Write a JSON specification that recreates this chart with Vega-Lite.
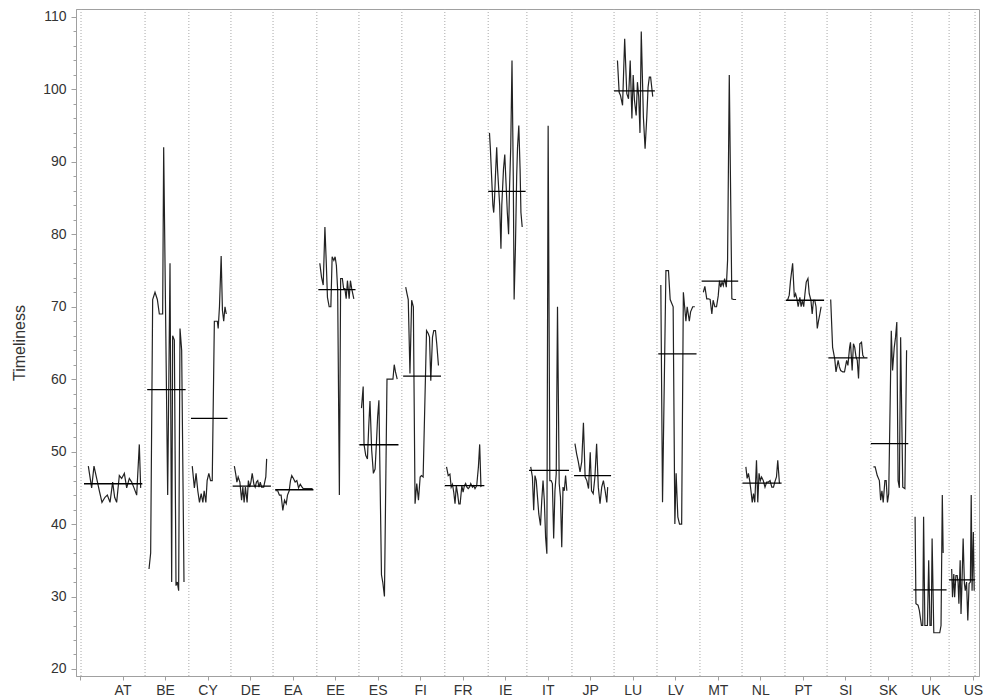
{
"$schema": "https://vega.github.io/schema/vega-lite/v6.json",
"width": 903, "height": 667,
"autosize": {"type": "none"},
"padding": {"left": 76, "top": 9, "right": 5, "bottom": 24},
"background": "white",
"config": {"view": {"stroke": "#a0a0a0", "strokeWidth": 1}, "font": "Liberation Sans", "axis": {"labelOverlap": false}},
"datasets": {
"bounds": [{"b":0.24},{"b":15.3},{"b":25.6},{"b":35.5},{"b":45.4},{"b":55.7},{"b":65.6},{"b":75.7},{"b":85.8},{"b":96.0},{"b":105.1},{"b":115.7},{"b":125.6},{"b":135.7},{"b":145.8},{"b":155.7},{"b":165.8},{"b":175.7},{"b":186.0},{"b":195.7},{"b":204.4},{"b":210.5}],
"means": [
{"c":"AT","t0":0.94,"t1":14.66,"v":45.57},{"c":"BE","t0":15.8,"t1":24.85,"v":58.55},{"c":"CY","t0":26.1,"t1":34.7,"v":54.6},{"c":"DE","t0":35.9,"t1":44.9,"v":45.24},{"c":"EA","t0":45.9,"t1":54.9,"v":44.74},{"c":"EE","t0":56.05,"t1":64.8,"v":72.36},{"c":"ES","t0":65.7,"t1":74.9,"v":50.95},{"c":"FI","t0":76.0,"t1":84.9,"v":60.43},{"c":"FR","t0":85.8,"t1":95.1,"v":45.3},{"c":"IE","t0":96.0,"t1":104.8,"v":85.93},{"c":"IT","t0":105.6,"t1":115.0,"v":47.4},{"c":"JP","t0":116.2,"t1":124.9,"v":46.7},{"c":"LU","t0":125.6,"t1":135.2,"v":99.8},{"c":"LV","t0":136.0,"t1":145.0,"v":63.5},{"c":"MT","t0":146.2,"t1":154.8,"v":73.55},{"c":"NL","t0":155.8,"t1":165.0,"v":45.65},{"c":"PT","t0":166.0,"t1":175.0,"v":70.9},{"c":"SI","t0":176.0,"t1":185.2,"v":62.95},{"c":"SK","t0":186.0,"t1":194.8,"v":51.1},{"c":"UK","t0":196.0,"t1":203.8,"v":30.93},{"c":"US","t0":204.4,"t1":210.5,"v":32.3}],
"series": [
{"c":"AT","t":1.96,"v":48},{"c":"AT","t":2.74,"v":45},{"c":"AT","t":3.29,"v":48},{"c":"AT","t":3.92,"v":46.3},{"c":"AT","t":4.55,"v":44.6},{"c":"AT","t":5.17,"v":43},{"c":"AT","t":5.88,"v":43.7},{"c":"AT","t":6.43,"v":44},{"c":"AT","t":7.06,"v":43},{"c":"AT","t":7.68,"v":45.8},{"c":"AT","t":8.15,"v":43.7},{"c":"AT","t":8.62,"v":43},{"c":"AT","t":9.25,"v":46.7},{"c":"AT","t":9.8,"v":46.3},{"c":"AT","t":10.43,"v":47},{"c":"AT","t":10.98,"v":45},{"c":"AT","t":11.6,"v":46.3},{"c":"AT","t":12.15,"v":45.8},{"c":"AT","t":12.7,"v":45},{"c":"AT","t":13.33,"v":44},{"c":"AT","t":13.95,"v":51},{"c":"AT","t":14.27,"v":45},
{"c":"BE","t":16.23,"v":33.8},{"c":"BE","t":16.62,"v":36},{"c":"BE","t":17.09,"v":71},{"c":"BE","t":17.64,"v":72},{"c":"BE","t":18.19,"v":71},{"c":"BE","t":18.66,"v":69},{"c":"BE","t":19.44,"v":69},{"c":"BE","t":19.68,"v":92},{"c":"BE","t":20.62,"v":44},{"c":"BE","t":21.17,"v":76},{"c":"BE","t":21.56,"v":32},{"c":"BE","t":21.79,"v":66},{"c":"BE","t":22.19,"v":65.4},{"c":"BE","t":22.58,"v":31.5},{"c":"BE","t":22.89,"v":32},{"c":"BE","t":23.2,"v":30.8},{"c":"BE","t":23.52,"v":67},{"c":"BE","t":23.91,"v":64},{"c":"BE","t":24.46,"v":32},
{"c":"CY","t":26.4,"v":48},{"c":"CY","t":26.9,"v":45},{"c":"CY","t":27.3,"v":47},{"c":"CY","t":27.7,"v":44.6},{"c":"CY","t":28.1,"v":43},{"c":"CY","t":28.5,"v":44.2},{"c":"CY","t":28.9,"v":43},{"c":"CY","t":29.2,"v":44.6},{"c":"CY","t":29.6,"v":43},{"c":"CY","t":29.9,"v":46},{"c":"CY","t":30.3,"v":47},{"c":"CY","t":30.7,"v":46},{"c":"CY","t":31.1,"v":46},{"c":"CY","t":31.6,"v":68},{"c":"CY","t":32.0,"v":68},{"c":"CY","t":32.3,"v":68},{"c":"CY","t":32.5,"v":67},{"c":"CY","t":32.8,"v":70},{"c":"CY","t":33.2,"v":77},{"c":"CY","t":33.5,"v":69.5},{"c":"CY","t":33.8,"v":68},{"c":"CY","t":34.1,"v":70},{"c":"CY","t":34.4,"v":69},
{"c":"DE","t":36.3,"v":48},{"c":"DE","t":36.6,"v":47},{"c":"DE","t":36.9,"v":45.8},{"c":"DE","t":37.2,"v":46.5},{"c":"DE","t":37.6,"v":45.8},{"c":"DE","t":38.0,"v":43.3},{"c":"DE","t":38.3,"v":45.1},{"c":"DE","t":38.6,"v":43},{"c":"DE","t":38.9,"v":45.1},{"c":"DE","t":39.3,"v":43},{"c":"DE","t":39.6,"v":46},{"c":"DE","t":39.9,"v":45.1},{"c":"DE","t":40.2,"v":45.8},{"c":"DE","t":40.5,"v":47},{"c":"DE","t":40.9,"v":45.5},{"c":"DE","t":41.2,"v":45.1},{"c":"DE","t":41.5,"v":45.8},{"c":"DE","t":41.8,"v":46},{"c":"DE","t":42.1,"v":45.1},{"c":"DE","t":42.4,"v":45.8},{"c":"DE","t":42.7,"v":45.1},{"c":"DE","t":43.2,"v":45.1},{"c":"DE","t":43.7,"v":46.5},{"c":"DE","t":43.9,"v":49},
{"c":"EA","t":46.0,"v":44.6},{"c":"EA","t":46.5,"v":44.6},{"c":"EA","t":46.9,"v":44},{"c":"EA","t":47.3,"v":44},{"c":"EA","t":47.7,"v":41.9},{"c":"EA","t":48.1,"v":43.3},{"c":"EA","t":48.5,"v":42.8},{"c":"EA","t":48.8,"v":44},{"c":"EA","t":49.2,"v":44.6},{"c":"EA","t":49.5,"v":46},{"c":"EA","t":49.8,"v":46.7},{"c":"EA","t":50.2,"v":46.3},{"c":"EA","t":50.6,"v":45.8},{"c":"EA","t":51.0,"v":46},{"c":"EA","t":51.4,"v":45},{"c":"EA","t":51.8,"v":45.5},{"c":"EA","t":52.1,"v":45.2},{"c":"EA","t":52.5,"v":44.9},{"c":"EA","t":53.3,"v":44.9},{"c":"EA","t":54.1,"v":44.9},{"c":"EA","t":54.7,"v":44.9},
{"c":"EE","t":56.4,"v":76},{"c":"EE","t":56.8,"v":74.1},{"c":"EE","t":57.2,"v":73},{"c":"EE","t":57.6,"v":81},{"c":"EE","t":57.9,"v":76.4},{"c":"EE","t":58.2,"v":71.3},{"c":"EE","t":58.6,"v":70},{"c":"EE","t":59.0,"v":70},{"c":"EE","t":59.3,"v":76.9},{"c":"EE","t":59.7,"v":76.4},{"c":"EE","t":60.0,"v":76.9},{"c":"EE","t":60.3,"v":75.7},{"c":"EE","t":60.6,"v":72.3},{"c":"EE","t":61.0,"v":44},{"c":"EE","t":61.3,"v":73.9},{"c":"EE","t":61.7,"v":73.9},{"c":"EE","t":62.0,"v":72.5},{"c":"EE","t":62.3,"v":72.5},{"c":"EE","t":62.6,"v":71.1},{"c":"EE","t":62.9,"v":73.6},{"c":"EE","t":63.3,"v":71.1},{"c":"EE","t":63.6,"v":73.6},{"c":"EE","t":63.9,"v":72.5},{"c":"EE","t":64.4,"v":71.1},
{"c":"ES","t":66.2,"v":56},{"c":"ES","t":66.6,"v":59},{"c":"ES","t":66.8,"v":51},{"c":"ES","t":67.2,"v":49.5},{"c":"ES","t":67.6,"v":49},{"c":"ES","t":67.9,"v":53.4},{"c":"ES","t":68.2,"v":57},{"c":"ES","t":68.6,"v":50.2},{"c":"ES","t":69.0,"v":47},{"c":"ES","t":69.4,"v":47.6},{"c":"ES","t":69.7,"v":51},{"c":"ES","t":70.0,"v":54.8},{"c":"ES","t":70.3,"v":57.1},{"c":"ES","t":70.9,"v":33},{"c":"ES","t":71.2,"v":32},{"c":"ES","t":71.6,"v":30},{"c":"ES","t":72.2,"v":60},{"c":"ES","t":72.7,"v":60},{"c":"ES","t":73.1,"v":60},{"c":"ES","t":73.6,"v":60},{"c":"ES","t":73.9,"v":62},{"c":"ES","t":74.2,"v":61},{"c":"ES","t":74.6,"v":60},
{"c":"FI","t":76.6,"v":72.7},{"c":"FI","t":76.9,"v":71.8},{"c":"FI","t":77.2,"v":71},{"c":"FI","t":77.6,"v":60.8},{"c":"FI","t":78.0,"v":70.9},{"c":"FI","t":78.4,"v":70},{"c":"FI","t":78.8,"v":42.8},{"c":"FI","t":79.2,"v":45.6},{"c":"FI","t":79.6,"v":43.3},{"c":"FI","t":80.0,"v":46.5},{"c":"FI","t":80.3,"v":46.7},{"c":"FI","t":80.7,"v":46.5},{"c":"FI","t":81.5,"v":66.7},{"c":"FI","t":81.9,"v":66.3},{"c":"FI","t":82.2,"v":65.8},{"c":"FI","t":82.5,"v":59.8},{"c":"FI","t":82.9,"v":65.8},{"c":"FI","t":83.2,"v":66.7},{"c":"FI","t":83.6,"v":66.7},{"c":"FI","t":83.9,"v":64.9},{"c":"FI","t":84.3,"v":61.9},
{"c":"FR","t":86.2,"v":47.9},{"c":"FR","t":86.6,"v":46.7},{"c":"FR","t":87.0,"v":46.9},{"c":"FR","t":87.3,"v":45.1},{"c":"FR","t":87.6,"v":45.5},{"c":"FR","t":87.9,"v":44.4},{"c":"FR","t":88.2,"v":42.8},{"c":"FR","t":88.5,"v":45.3},{"c":"FR","t":88.8,"v":44.2},{"c":"FR","t":89.1,"v":42.8},{"c":"FR","t":89.4,"v":42.8},{"c":"FR","t":89.8,"v":45.3},{"c":"FR","t":90.1,"v":44.4},{"c":"FR","t":90.4,"v":45.3},{"c":"FR","t":90.7,"v":45.6},{"c":"FR","t":91.0,"v":45.1},{"c":"FR","t":91.3,"v":44.9},{"c":"FR","t":91.6,"v":45.1},{"c":"FR","t":91.9,"v":45.6},{"c":"FR","t":92.3,"v":45.1},{"c":"FR","t":92.6,"v":45.3},{"c":"FR","t":92.9,"v":44.9},{"c":"FR","t":93.3,"v":45.3},{"c":"FR","t":93.7,"v":47.9},{"c":"FR","t":94.0,"v":51},{"c":"FR","t":94.3,"v":45.1},
{"c":"IE","t":96.3,"v":94},{"c":"IE","t":96.5,"v":92},{"c":"IE","t":96.8,"v":88},{"c":"IE","t":97.1,"v":84},{"c":"IE","t":97.3,"v":83},{"c":"IE","t":97.5,"v":85},{"c":"IE","t":97.7,"v":88},{"c":"IE","t":98.0,"v":92},{"c":"IE","t":98.2,"v":89},{"c":"IE","t":98.5,"v":86},{"c":"IE","t":98.7,"v":84},{"c":"IE","t":99.0,"v":78},{"c":"IE","t":99.2,"v":84},{"c":"IE","t":99.6,"v":89},{"c":"IE","t":99.9,"v":91},{"c":"IE","t":100.2,"v":87},{"c":"IE","t":100.5,"v":83},{"c":"IE","t":100.8,"v":80},{"c":"IE","t":101.0,"v":86},{"c":"IE","t":101.3,"v":92},{"c":"IE","t":101.6,"v":104},{"c":"IE","t":101.9,"v":88},{"c":"IE","t":102.1,"v":71},{"c":"IE","t":102.4,"v":78},{"c":"IE","t":102.7,"v":88},{"c":"IE","t":102.9,"v":92},{"c":"IE","t":103.2,"v":95},{"c":"IE","t":103.5,"v":89},{"c":"IE","t":103.7,"v":83},{"c":"IE","t":104.0,"v":81},
{"c":"IT","t":106.0,"v":47.9},{"c":"IT","t":106.4,"v":46.5},{"c":"IT","t":106.7,"v":41.9},{"c":"IT","t":107.0,"v":46.7},{"c":"IT","t":107.3,"v":46},{"c":"IT","t":107.6,"v":43.7},{"c":"IT","t":107.9,"v":41.4},{"c":"IT","t":108.3,"v":39.8},{"c":"IT","t":108.6,"v":43.3},{"c":"IT","t":108.9,"v":46},{"c":"IT","t":109.2,"v":43.3},{"c":"IT","t":109.5,"v":38.2},{"c":"IT","t":109.8,"v":35.9},{"c":"IT","t":110.1,"v":95},{"c":"IT","t":110.5,"v":46},{"c":"IT","t":110.8,"v":46},{"c":"IT","t":111.1,"v":45.6},{"c":"IT","t":111.4,"v":38},{"c":"IT","t":111.7,"v":44.6},{"c":"IT","t":112.0,"v":46.9},{"c":"IT","t":112.3,"v":70},{"c":"IT","t":112.7,"v":45.6},{"c":"IT","t":113.0,"v":43.7},{"c":"IT","t":113.3,"v":36.8},{"c":"IT","t":113.6,"v":45.1},{"c":"IT","t":113.9,"v":44.6},{"c":"IT","t":114.2,"v":46.7},{"c":"IT","t":114.5,"v":44.6},
{"c":"JP","t":116.4,"v":51.1},{"c":"JP","t":116.8,"v":49.7},{"c":"JP","t":117.2,"v":48.6},{"c":"JP","t":117.6,"v":47.2},{"c":"JP","t":118.0,"v":48.6},{"c":"JP","t":118.4,"v":54},{"c":"JP","t":118.8,"v":46.5},{"c":"JP","t":119.2,"v":46},{"c":"JP","t":119.6,"v":44.9},{"c":"JP","t":120.0,"v":49.9},{"c":"JP","t":120.3,"v":44.6},{"c":"JP","t":120.7,"v":44.2},{"c":"JP","t":121.1,"v":46.5},{"c":"JP","t":121.5,"v":51.1},{"c":"JP","t":121.9,"v":45.1},{"c":"JP","t":122.3,"v":42.8},{"c":"JP","t":122.7,"v":45.1},{"c":"JP","t":123.1,"v":46},{"c":"JP","t":123.5,"v":44.6},{"c":"JP","t":123.9,"v":43},{"c":"JP","t":124.1,"v":45.1},
{"c":"LU","t":126.4,"v":104},{"c":"LU","t":126.8,"v":99.6},{"c":"LU","t":127.1,"v":99.2},{"c":"LU","t":127.6,"v":97.8},{"c":"LU","t":128.1,"v":107},{"c":"LU","t":128.6,"v":99.4},{"c":"LU","t":129.0,"v":98.7},{"c":"LU","t":129.4,"v":104},{"c":"LU","t":129.8,"v":96},{"c":"LU","t":130.1,"v":102},{"c":"LU","t":130.4,"v":98.5},{"c":"LU","t":130.8,"v":96.4},{"c":"LU","t":131.1,"v":101},{"c":"LU","t":131.4,"v":99},{"c":"LU","t":131.7,"v":94},{"c":"LU","t":132.0,"v":108},{"c":"LU","t":132.5,"v":96.2},{"c":"LU","t":132.9,"v":91.8},{"c":"LU","t":133.3,"v":96.2},{"c":"LU","t":133.6,"v":100.3},{"c":"LU","t":133.9,"v":101.7},{"c":"LU","t":134.2,"v":101.7},{"c":"LU","t":134.7,"v":99},
{"c":"LV","t":136.6,"v":73},{"c":"LV","t":137.0,"v":43},{"c":"LV","t":137.8,"v":75},{"c":"LV","t":138.4,"v":75},{"c":"LV","t":138.8,"v":71},{"c":"LV","t":139.5,"v":70},{"c":"LV","t":139.9,"v":40},{"c":"LV","t":140.2,"v":47},{"c":"LV","t":140.6,"v":41},{"c":"LV","t":141.0,"v":40},{"c":"LV","t":141.5,"v":40},{"c":"LV","t":141.9,"v":72},{"c":"LV","t":142.5,"v":68},{"c":"LV","t":142.8,"v":70},{"c":"LV","t":143.3,"v":68},{"c":"LV","t":143.6,"v":69.3},{"c":"LV","t":144.1,"v":70},{"c":"LV","t":144.6,"v":70},
{"c":"MT","t":146.6,"v":72},{"c":"MT","t":146.96,"v":72.8},{"c":"MT","t":147.4,"v":71.1},{"c":"MT","t":147.8,"v":71.1},{"c":"MT","t":148.2,"v":71},{"c":"MT","t":148.6,"v":69},{"c":"MT","t":148.9,"v":70.9},{"c":"MT","t":149.3,"v":70},{"c":"MT","t":149.7,"v":70},{"c":"MT","t":150.1,"v":71.5},{"c":"MT","t":150.4,"v":73.6},{"c":"MT","t":150.7,"v":72.7},{"c":"MT","t":151.0,"v":73.4},{"c":"MT","t":151.3,"v":72.9},{"c":"MT","t":151.6,"v":73.9},{"c":"MT","t":152.0,"v":72.7},{"c":"MT","t":152.3,"v":76.4},{"c":"MT","t":152.7,"v":102},{"c":"MT","t":153.3,"v":71.1},{"c":"MT","t":153.7,"v":71},{"c":"MT","t":154.3,"v":71},
{"c":"NL","t":156.6,"v":47.9},{"c":"NL","t":156.9,"v":46.3},{"c":"NL","t":157.2,"v":47},{"c":"NL","t":157.5,"v":46},{"c":"NL","t":157.8,"v":44.6},{"c":"NL","t":158.1,"v":43},{"c":"NL","t":158.4,"v":44.2},{"c":"NL","t":158.7,"v":43},{"c":"NL","t":159.1,"v":48.8},{"c":"NL","t":159.4,"v":43},{"c":"NL","t":159.7,"v":47},{"c":"NL","t":160.0,"v":46},{"c":"NL","t":160.3,"v":46.5},{"c":"NL","t":160.7,"v":46},{"c":"NL","t":161.1,"v":45.1},{"c":"NL","t":161.5,"v":45.8},{"c":"NL","t":161.9,"v":45.8},{"c":"NL","t":162.3,"v":46},{"c":"NL","t":162.7,"v":45.1},{"c":"NL","t":163.1,"v":45.1},{"c":"NL","t":163.4,"v":45.8},{"c":"NL","t":163.8,"v":46.5},{"c":"NL","t":164.1,"v":48.8},{"c":"NL","t":164.5,"v":45.6},
{"c":"PT","t":166.4,"v":70.9},{"c":"PT","t":166.8,"v":71.6},{"c":"PT","t":167.1,"v":73.6},{"c":"PT","t":167.6,"v":76},{"c":"PT","t":168.0,"v":71.3},{"c":"PT","t":168.3,"v":71.8},{"c":"PT","t":168.6,"v":71.1},{"c":"PT","t":168.9,"v":70},{"c":"PT","t":169.3,"v":71.3},{"c":"PT","t":169.6,"v":70},{"c":"PT","t":169.9,"v":70.9},{"c":"PT","t":170.2,"v":70},{"c":"PT","t":170.5,"v":71.8},{"c":"PT","t":170.8,"v":73.4},{"c":"PT","t":171.2,"v":73.9},{"c":"PT","t":171.5,"v":71.8},{"c":"PT","t":171.9,"v":70.9},{"c":"PT","t":172.2,"v":69},{"c":"PT","t":172.5,"v":70.9},{"c":"PT","t":172.8,"v":70.9},{"c":"PT","t":173.1,"v":70},{"c":"PT","t":173.4,"v":67},{"c":"PT","t":173.7,"v":68.1},{"c":"PT","t":174.0,"v":69},{"c":"PT","t":174.3,"v":70},
{"c":"SI","t":176.55,"v":71},{"c":"SI","t":177.0,"v":64.4},{"c":"SI","t":177.5,"v":62.8},{"c":"SI","t":177.8,"v":61},{"c":"SI","t":178.3,"v":62.6},{"c":"SI","t":178.6,"v":61.7},{"c":"SI","t":178.9,"v":61.2},{"c":"SI","t":179.4,"v":61},{"c":"SI","t":179.8,"v":61},{"c":"SI","t":180.3,"v":62.6},{"c":"SI","t":180.6,"v":61.9},{"c":"SI","t":181.0,"v":64.4},{"c":"SI","t":181.2,"v":65.1},{"c":"SI","t":181.6,"v":61.2},{"c":"SI","t":181.9,"v":64.9},{"c":"SI","t":182.2,"v":64.4},{"c":"SI","t":182.5,"v":63.1},{"c":"SI","t":182.8,"v":62.6},{"c":"SI","t":183.1,"v":60.1},{"c":"SI","t":183.4,"v":64.9},{"c":"SI","t":183.8,"v":65.1},{"c":"SI","t":184.1,"v":63.3},{"c":"SI","t":184.4,"v":63},
{"c":"SK","t":186.6,"v":47.9},{"c":"SK","t":187.0,"v":47.9},{"c":"SK","t":187.5,"v":46.7},{"c":"SK","t":188.0,"v":46},{"c":"SK","t":188.3,"v":43.3},{"c":"SK","t":188.6,"v":44.6},{"c":"SK","t":188.9,"v":43},{"c":"SK","t":189.3,"v":46},{"c":"SK","t":189.6,"v":46},{"c":"SK","t":189.9,"v":43},{"c":"SK","t":190.2,"v":44.2},{"c":"SK","t":190.8,"v":66.7},{"c":"SK","t":191.1,"v":61.2},{"c":"SK","t":191.5,"v":64.4},{"c":"SK","t":191.8,"v":65.8},{"c":"SK","t":192.1,"v":67.9},{"c":"SK","t":192.4,"v":46},{"c":"SK","t":192.7,"v":45},{"c":"SK","t":193.0,"v":65.8},{"c":"SK","t":193.5,"v":45.1},{"c":"SK","t":194.0,"v":44.9},{"c":"SK","t":194.4,"v":64},
{"c":"UK","t":196.4,"v":41},{"c":"UK","t":196.6,"v":29},{"c":"UK","t":197.1,"v":28.8},{"c":"UK","t":197.4,"v":28.1},{"c":"UK","t":197.9,"v":26},{"c":"UK","t":198.2,"v":26},{"c":"UK","t":198.4,"v":41},{"c":"UK","t":198.7,"v":26},{"c":"UK","t":199.1,"v":26},{"c":"UK","t":199.3,"v":26},{"c":"UK","t":199.6,"v":35},{"c":"UK","t":199.9,"v":26},{"c":"UK","t":200.2,"v":26},{"c":"UK","t":200.4,"v":38},{"c":"UK","t":200.8,"v":25},{"c":"UK","t":201.3,"v":25},{"c":"UK","t":201.8,"v":25},{"c":"UK","t":202.2,"v":25},{"c":"UK","t":202.5,"v":26},{"c":"UK","t":202.8,"v":44},{"c":"UK","t":203.0,"v":36},
{"c":"US","t":205.0,"v":33.8},{"c":"US","t":205.2,"v":29.9},{"c":"US","t":205.5,"v":33.1},{"c":"US","t":205.7,"v":29.9},{"c":"US","t":206.0,"v":32.9},{"c":"US","t":206.3,"v":32.9},{"c":"US","t":206.5,"v":32},{"c":"US","t":206.7,"v":29},{"c":"US","t":207.0,"v":35},{"c":"US","t":207.2,"v":27.6},{"c":"US","t":207.4,"v":31.3},{"c":"US","t":207.7,"v":38},{"c":"US","t":208.0,"v":31.8},{"c":"US","t":208.2,"v":30.8},{"c":"US","t":208.5,"v":32},{"c":"US","t":208.8,"v":26.7},{"c":"US","t":209.1,"v":31.8},{"c":"US","t":209.4,"v":32},{"c":"US","t":209.6,"v":44},{"c":"US","t":209.8,"v":30.8},{"c":"US","t":210.1,"v":38.9},{"c":"US","t":210.3,"v":30.8}
]
},
"layer": [
{"data": {"name": "bounds"}, "mark": {"type": "rule", "strokeDash": [1, 2], "color": "#a8a8a8", "strokeWidth": 1},
 "encoding": {"x": {"field": "b", "type": "quantitative",
   "scale": {"domain": [-0.94, 211.43], "nice": false, "zero": false},
   "axis": {"values": [0,10,20,30,40,50,60,70,80,90,100,110,120,130,140,150,160,170,180,190,200,210],
     "labelExpr": "['','AT','BE','CY','DE','EA','EE','ES','FI','FR','IE','IT','JP','LU','LV','MT','NL','PT','SI','SK','UK','US'][round(datum.value/10)]",
     "title": null, "grid": false, "domainColor": "#a0a0a0", "tickColor": "#a0a0a0", "tickSize": 4,
     "labelFontSize": 14, "labelColor": "#333333", "labelPadding": 3, "labelFlush": false, "labelOverlap": false, "labelBound": false}}}},
{"data": {"name": "series"}, "mark": {"type": "line", "color": "#222222", "strokeWidth": 1.2},
 "encoding": {"x": {"field": "t", "type": "quantitative"},
   "y": {"field": "v", "type": "quantitative",
     "scale": {"domain": [19.03, 111.1], "nice": false, "zero": false},
     "axis": {"values": [20,22,24,26,28,30,32,34,36,38,40,42,44,46,48,50,52,54,56,58,60,62,64,66,68,70,72,74,76,78,80,82,84,86,88,90,92,94,96,98,100,102,104,106,108,110],
       "labelExpr": "datum.value % 10 === 0 ? datum.label : ''",
       "tickSize": {"condition": {"test": "datum.value % 10 !== 0", "value": 3}, "value": 5},
       "title": "Timeliness", "titleFontSize": 16, "titleFontWeight": "normal", "titleColor": "#333333", "titlePadding": 15,
       "grid": false, "domainColor": "#a0a0a0", "tickColor": "#a0a0a0",
       "labelFontSize": 14, "labelColor": "#333333", "labelPadding": 5, "labelOverlap": false, "labelBound": false}},
   "detail": {"field": "c"}}},
{"data": {"name": "means"}, "mark": {"type": "rule", "color": "#000000", "strokeWidth": 1.3},
 "encoding": {"x": {"field": "t0", "type": "quantitative"}, "x2": {"field": "t1"},
   "y": {"field": "v", "type": "quantitative",
     "scale": {"domain": [19.03, 111.1], "nice": false, "zero": false},
     "axis": {"values": [20,22,24,26,28,30,32,34,36,38,40,42,44,46,48,50,52,54,56,58,60,62,64,66,68,70,72,74,76,78,80,82,84,86,88,90,92,94,96,98,100,102,104,106,108,110],
       "labelExpr": "datum.value % 10 === 0 ? datum.label : ''",
       "tickSize": {"condition": {"test": "datum.value % 10 !== 0", "value": 3}, "value": 5},
       "title": "Timeliness", "titleFontSize": 16, "titleFontWeight": "normal", "titleColor": "#333333", "titlePadding": 15,
       "grid": false, "domainColor": "#a0a0a0", "tickColor": "#a0a0a0",
       "labelFontSize": 14, "labelColor": "#333333", "labelPadding": 5, "labelOverlap": false, "labelBound": false}}}}
]
}
